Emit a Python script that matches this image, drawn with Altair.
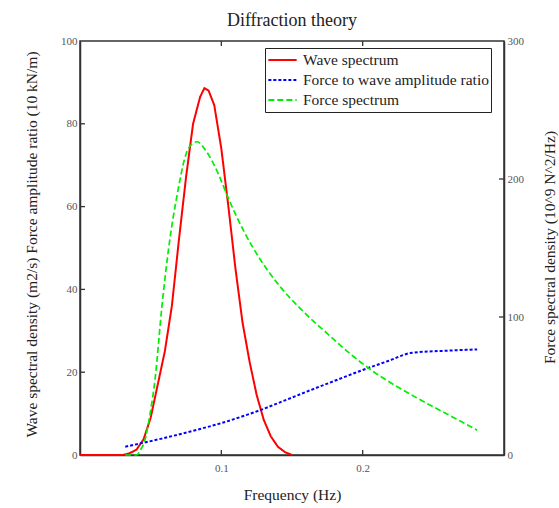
import altair as alt
import pandas as pd

title_text = "Diffraction theory"
series_names = ["Wave spectrum", "Force to wave amplitude ratio", "Force spectrum"]
series_colors = ["#ff0000", "#0000ff", "#00ee00"]
series_dashes = [[1, 0], [3, 2], [6, 3]]

wave_freq = [0.0, 0.030, 0.035, 0.040, 0.045, 0.050, 0.055, 0.060, 0.065, 0.070, 0.075,
             0.080, 0.085, 0.088, 0.091, 0.095, 0.100, 0.105, 0.110, 0.115, 0.120,
             0.125, 0.130, 0.135, 0.140, 0.145, 0.150]
wave_val = [0.0, 0.0, 0.4, 1.3, 3.8, 9, 17, 25, 36, 52, 67,
            80, 86.5, 88.6, 88, 84.5, 74, 60, 45, 32, 22.5,
            14.5, 8.5, 4.5, 2, 0.7, 0]

ratio_freq = [0.032, 0.057, 0.085, 0.100, 0.115, 0.128, 0.145, 0.163, 0.180, 0.199,
              0.218, 0.235, 0.260, 0.281]
ratio_val = [2.0, 3.9, 6.3, 7.7, 9.35, 10.9, 13.2, 15.65, 17.9, 20.4,
             22.7, 24.7, 25.2, 25.5]

force_freq = [0.032, 0.040, 0.043, 0.046, 0.0496, 0.053, 0.058, 0.063, 0.069, 0.075,
              0.080, 0.083, 0.088, 0.094, 0.099, 0.105, 0.116, 0.128, 0.140, 0.156,
              0.175, 0.194, 0.206, 0.222, 0.239, 0.260, 0.281]
force_val = [0, 0, 4, 11, 30, 54, 108, 152, 190, 218,
             226, 227, 222, 212, 201, 186, 162, 141, 124, 106,
             88, 71, 61.6, 51, 41, 29.5, 18]

x_tick_vals = [0.1, 0.2]
left_tick_vals = [20, 40, 60, 80]
right_tick_vals = [100, 200]
x_label_vals = [0.1, 0.2]
left_label_vals = [0, 20, 40, 60, 80, 100]
right_label_vals = [0, 100, 200, 300]

W, H = 424, 414
FONT = "Liberation Serif"
INK = "#333333"

wave_df = pd.DataFrame({"f": wave_freq, "v": wave_val, "series": series_names[0]})
ratio_df = pd.DataFrame({"f": ratio_freq, "v": ratio_val, "series": series_names[1]})
force_df = pd.DataFrame({"f": force_freq, "v": force_val, "series": series_names[2]})
xt_df = pd.DataFrame({"f": x_tick_vals})
lt_df = pd.DataFrame({"v": left_tick_vals})
rt_df = pd.DataFrame({"v": right_tick_vals})

x_axis = alt.Axis(values=x_label_vals, tickSize=0, labelPadding=7, labelFont=FONT,
                  labelFontSize=11, labelColor="#555", domainColor=INK, domainWidth=1.5,
                  grid=False, labelFlush=False,
                  titleFont=FONT, titleFontSize=15.5, titleFontWeight="normal", titleColor="#222",
                  titleX=W / 2, titleY=39, titleAlign="center", titleBaseline="middle")
x_enc = alt.X("f:Q", scale=alt.Scale(domain=[0, 0.3], nice=False, zero=False),
              axis=x_axis, title="Frequency (Hz)")

left_axis = alt.Axis(values=left_label_vals, tickSize=0, labelPadding=3, labelFont=FONT,
                     labelFontSize=11, labelColor="#555", domainColor=INK, domainWidth=1.5,
                     grid=False, labelFlush=False,
                     titleFont=FONT, titleFontSize=15.5, titleFontWeight="normal", titleColor="#222",
                     titleAngle=270, titleX=-49, titleY=203, titleAlign="center",
                     titleBaseline="middle")
y_left = alt.Y("v:Q", scale=alt.Scale(domain=[0, 100], nice=False),
               axis=left_axis,
               title="Wave spectral density (m2/s) Force amplitude ratio (10 kN/m)")

right_axis = alt.Axis(orient="right", values=right_label_vals, tickSize=0, labelPadding=3,
                      labelFont=FONT, labelFontSize=11, labelColor="#555", domainColor=INK,
                      domainWidth=1.5, grid=False, labelFlush=False,
                      titleFont=FONT, titleFontSize=15.5, titleFontWeight="normal",
                      titleColor="#222", titleAngle=270, titleX=45, titleY=206,
                      titleAlign="center", titleBaseline="middle")
y_right = alt.Y("v:Q", scale=alt.Scale(domain=[0, 300], nice=False),
                axis=right_axis, title="Force spectral density (10^9 N^2/Hz)")

legend = alt.Legend(title=None, orient="none", legendX=185, legendY=7, symbolType="stroke",
                    symbolSize=800, symbolStrokeWidth=2.2, labelFont=FONT, labelFontSize=15.5,
                    labelColor="#222", labelLimit=400, strokeColor="#222", fillColor="white",
                    padding=2, rowPadding=0, clipHeight=20, labelOffset=5)
color_enc = alt.Color("series:N", scale=alt.Scale(domain=series_names, range=series_colors),
                      legend=legend)
dash_enc = alt.StrokeDash("series:N",
                          scale=alt.Scale(domain=series_names, range=series_dashes),
                          legend=legend)

wave = alt.Chart(wave_df).mark_line(strokeWidth=2).encode(
    x=x_enc, y=y_left, color=color_enc, strokeDash=dash_enc)
ratio = alt.Chart(ratio_df).mark_line(strokeWidth=2, interpolate="monotone").encode(
    x=x_enc, y=y_left, color=color_enc, strokeDash=dash_enc)
force = alt.Chart(force_df).mark_line(strokeWidth=1.7, interpolate="monotone").encode(
    x=x_enc, y=y_right, color=color_enc, strokeDash=dash_enc)

bottom_ticks = alt.Chart(xt_df).mark_rule(color=INK, strokeWidth=1.3).encode(
    x=x_enc, y=alt.value(H), y2=alt.value(H - 5))
top_ticks = alt.Chart(xt_df).mark_rule(color=INK, strokeWidth=1.3).encode(
    x=x_enc, y=alt.value(0), y2=alt.value(5))
left_ticks = alt.Chart(lt_df).mark_rule(color=INK, strokeWidth=1.3).encode(
    y=y_left, x=alt.value(0), x2=alt.value(5))
right_ticks = alt.Chart(rt_df).mark_rule(color=INK, strokeWidth=1.3).encode(
    y=y_right, x=alt.value(W), x2=alt.value(W - 5))

left_layer = alt.layer(wave, ratio, bottom_ticks, top_ticks, left_ticks)
right_layer = alt.layer(force, right_ticks)

chart = alt.layer(left_layer, right_layer).resolve_scale(y="independent").properties(
    width=W, height=H,
    title=alt.TitleParams(title_text, font=FONT, fontSize=18, fontWeight="normal",
                          color="#222", anchor="middle", offset=5),
    autosize=alt.AutoSizeParams(type="none"),
    padding={"left": 80, "top": 41, "right": 55, "bottom": 53},
    background="white",
).configure_view(stroke=INK, strokeWidth=1.5)

chart.save("out.html", embed_options={"renderer": "svg", "actions": False})
